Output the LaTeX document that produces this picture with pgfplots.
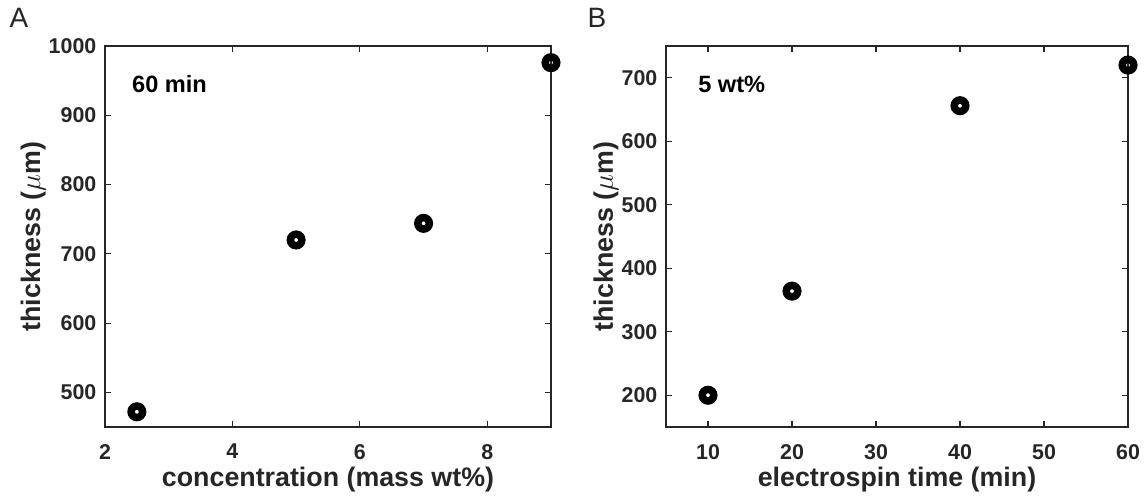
\documentclass[border=0pt]{standalone}
\usepackage{fontspec}
\setmainfont{Liberation Sans}
\usepackage{pgfplots}
\pgfplotsset{compat=1.18}
\definecolor{axgray}{HTML}{262626}
\begin{document}
\begin{tikzpicture}
\useasboundingbox (0pt,0pt) rectangle (572pt,247.5pt);
\pgfplotsset{
  myaxis/.style={
    scale only axis, clip=false,
    anchor=south west,
    height=190.5pt,
    axis line style={axgray, line width=0.6pt},
    every tick/.style={axgray, line width=0.6pt},
    major tick length=3pt,
    tick align=inside,
    tick pos=both,
    tick label style={font=\fontsize{10.7}{12}\selectfont\bfseries, text=axgray},
    xticklabel style={yshift=-5pt},
    yticklabel style={xshift=-0.8pt},
    label style={font=\fontsize{13.4}{15}\selectfont\bfseries, text=axgray},
    xlabel style={at={(axis description cs:0.5,-0.139)}, anchor=center},
    /pgf/number format/assume math mode=true,
    /pgf/number format/1000 sep={},
    scaled ticks=false,
  },
  ringmark/.style={only marks, mark=o, mark size=2.875pt,
    mark options={line width=3.75pt, draw=black}},
}
\begin{axis}[myaxis, at={(52.5pt,34pt)}, width=223pt,
  xmin=2, xmax=9, ymin=450, ymax=1000,
  xtick={2,4,6,8}, ytick={500,600,...,1000},
  xlabel={concentration (mass wt\%)},
  ylabel={thickness ($\mu$m)},
  ylabel style={at={(axis description cs:-0.161,0.5)}, anchor=center},
]
\addplot[ringmark] coordinates {(2.5,472) (5,720) (7,744) (9,976)};
\node[anchor=west, inner sep=0pt, font=\fontsize{11.8}{13}\selectfont\bfseries, text=black] at (rel axis cs:0.06,0.90) {60 min};
\end{axis}
\begin{axis}[myaxis, at={(333pt,34pt)}, width=231pt,
  xmin=5, xmax=60, ymin=150, ymax=750,
  xtick={10,20,...,60}, ytick={200,300,...,700},
  xlabel={electrospin time (min)},
  ylabel={thickness ($\mu$m)},
  ylabel style={at={(axis description cs:-0.13,0.5)}, anchor=center},
]
\addplot[ringmark] coordinates {(10,200) (20,364) (40,656) (60,720)};
\node[anchor=west, inner sep=0pt, font=\fontsize{11.8}{13}\selectfont\bfseries, text=black] at (rel axis cs:0.069,0.90) {5 wt\%};
\end{axis}
\node[font=\fontsize{14}{16}\selectfont, text=axgray] at (9.5pt,238.5pt) {A};
\node[font=\fontsize{14}{16}\selectfont, text=axgray] at (298.5pt,238.5pt) {B};
\end{tikzpicture}
\end{document}
